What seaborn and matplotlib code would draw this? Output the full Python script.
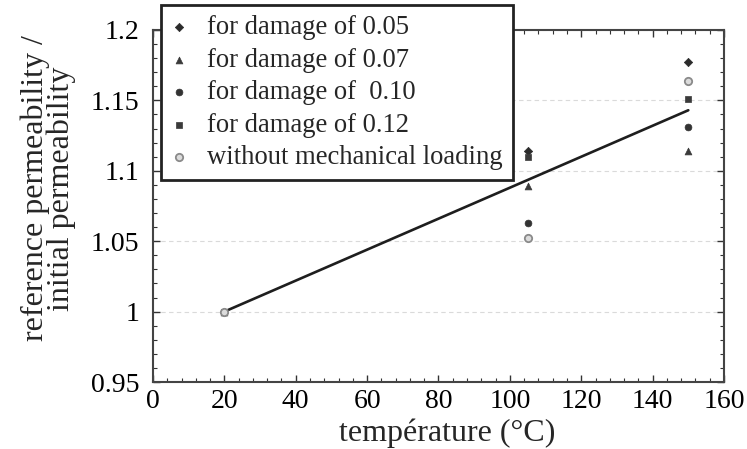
import pandas as pd
import seaborn as sns
import matplotlib
matplotlib.use("Agg")
from matplotlib import pyplot as plt
import matplotlib.ticker as mticker

# data
temperature = [20, 105, 150]
damage_005 = [1.0, 1.114, 1.177]
damage_007 = [1.0, 1.089, 1.114]
damage_010 = [1.0, 1.063, 1.131]
damage_012 = [1.0, 1.110, 1.151]
no_loading = [1.0, 1.052, 1.164]
fit_temperature = [20, 150]
fit_ratio = [1.0, 1.143]

series_labels = ["for damage of 0.05", "for damage of 0.07", "for damage of  0.10",
                 "for damage of 0.12", "without mechanical loading"]
series_values = [damage_005, damage_007, damage_010, damage_012, no_loading]
series_markers = ["D", "^", "o", "s", "o"]
series_colors = ["#2b2b2b", "#3a3a3a", "#333333", "#3a3a3a", "#a8a8a8"]

sns.set_theme(style="ticks")
plt.rcParams["font.family"] = ["Liberation Serif", "DejaVu Serif"]

fig = plt.figure(figsize=(7.47, 4.49), dpi=100)
ax = fig.add_axes([0.2048, 0.1492, 0.7644, 0.784])

for label, vals, mk, col in zip(series_labels, series_values, series_markers, series_colors):
    df = pd.DataFrame({"temperature": temperature, "ratio": vals})
    if label.startswith("without"):
        sns.scatterplot(data=df, x="temperature", y="ratio", marker=mk, s=28,
                        color="#dcdcdc", edgecolor="#8a8a8a", linewidth=1.3, label=label, ax=ax, zorder=4)
    else:
        sns.scatterplot(data=df, x="temperature", y="ratio", marker=mk,
                        s=24 if mk != "D" else 18, color=col, edgecolor=col, linewidth=0.5,
                        label=label, ax=ax, zorder=3)

fit_df = pd.DataFrame({"temperature": fit_temperature, "ratio": fit_ratio})
sns.lineplot(data=fit_df, x="temperature", y="ratio", color="#1e1e1e", linewidth=1.9,
             legend=False, ax=ax, zorder=2)

ax.set_xlim(0, 160)
ax.set_ylim(0.95, 1.2)
ax.xaxis.set_major_locator(mticker.MultipleLocator(20))
ax.xaxis.set_minor_locator(mticker.AutoMinorLocator(5))
ax.yaxis.set_major_locator(mticker.MultipleLocator(0.05))
ax.yaxis.set_minor_locator(mticker.AutoMinorLocator(5))
ax.yaxis.set_major_formatter(mticker.FuncFormatter(lambda v, p: "%g" % round(v, 3)))

ax.tick_params(which="both", direction="in", top=True, right=True, colors="#333333",
               labelcolor="black", labelsize=20)
ax.tick_params(which="major", length=5, width=1)
ax.tick_params(which="minor", length=3, width=0.8)
ax.tick_params(axis="x", pad=5)
ax.tick_params(axis="y", pad=10)

ax.grid(axis="y", which="major", color="#dadada", linestyle=(0, (4, 3)), linewidth=0.8)
for sp in ax.spines.values():
    sp.set_color("#444444")
    sp.set_linewidth(1.5)

ax.set_xlabel("température (°C)", fontsize=23)
ax.set_ylabel("reference permeability /\ninitial permeability", fontsize=23,
              linespacing=0.85)
ax.yaxis.set_label_coords(-0.135, 0.55)
ax.xaxis.set_label_coords(0.515, -0.103)
ax.xaxis.label.set_va("top")

handles, labels = ax.get_legend_handles_labels()
leg = ax.legend(handles, labels, loc="upper left", bbox_to_anchor=(161 / 747, 1 - 5 / 449),
                bbox_transform=fig.transFigure, borderaxespad=0, fontsize=19.2,
                frameon=True, fancybox=False, framealpha=1, edgecolor="#222222",
                handlelength=0.6, handletextpad=0.75, labelspacing=0.28, borderpad=0.38)
leg.get_frame().set_linewidth(2)
leg.set_zorder(10)

fig.savefig("out.png", dpi=100)
